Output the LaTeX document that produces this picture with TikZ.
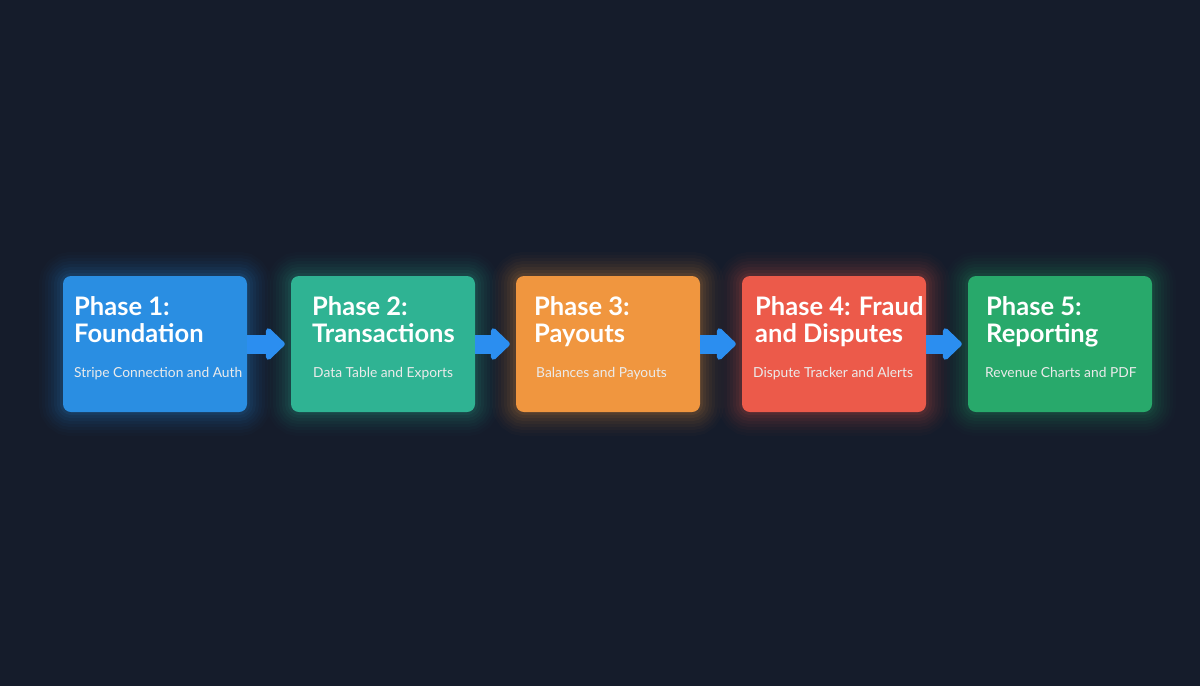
\documentclass[tikz,border=0pt]{standalone}
\usepackage{fontspec}
\setmainfont{Lato}
\usetikzlibrary{arrows.meta,positioning}

\definecolor{bgnavy}{HTML}{151C2B}
\definecolor{phaseblue}{HTML}{2A8EE2}
\definecolor{phaseteal}{HTML}{2FB393}
\definecolor{phaseorange}{HTML}{F0963F}
\definecolor{phasered}{HTML}{EC5A4A}
\definecolor{phasegreen}{HTML}{28A96B}
\definecolor{arrowblue}{HTML}{2B8EF0}

\tikzset{
	glow/.style={
		preaction={draw=#1,line width=48pt,opacity=0.02},
		preaction={draw=#1,line width=42pt,opacity=0.025},
		preaction={draw=#1,line width=36pt,opacity=0.03},
		preaction={draw=#1,line width=30pt,opacity=0.035},
		preaction={draw=#1,line width=24pt,opacity=0.04},
		preaction={draw=#1,line width=18pt,opacity=0.05},
		preaction={draw=#1,line width=12pt,opacity=0.06},
		preaction={draw=#1,line width=6pt,opacity=0.08}},
	phasebox/.style={fill=#1,glow=#1,rounded corners=8pt,
		minimum width=184pt,minimum height=136pt,inner sep=0pt},
	phasetitle/.style={anchor=base west,align=left,text=white,inner sep=0pt,
		font=\bfseries\fontsize{25.5}{27}\selectfont},
	phasenote/.style={anchor=base west,text=white!92!black,inner sep=0pt,
		font=\fontsize{13.8}{16}\selectfont},
	flow/.style={-{Triangle[width=37pt,length=20pt,round]},line width=19pt,
		draw=arrowblue,shorten >=6pt}
}

\begin{document}
\begin{tikzpicture}[x=1pt,y=-1pt]
	\fill[bgnavy] (0,0) rectangle (1200,686);
	\useasboundingbox (0,0) rectangle (1200,686);
	
	% boxes
	\node[phasebox=phaseblue]   (phase1) at (155,344)  {};
	\node[phasebox=phaseteal]   (phase2) at (383,344)  {};
	\node[phasebox=phaseorange] (phase3) at (608,344)  {};
	\node[phasebox=phasered]    (phase4) at (834,344)  {};
	\node[phasebox=phasegreen]  (phase5) at (1060,344) {};
	
	% titles (anchored at the baseline of the second line)
	\node[phasetitle] (title1) at (74,342)  {Phase 1:\\Foundation};
	\node[phasetitle] (title2) at (312,342) {Phase 2:\\Transactions};
	\node[phasetitle] (title3) at (534,342) {Phase 3:\\Payouts};
	\node[phasetitle] (title4) at (755,342) {Phase 4: Fraud\\and Disputes};
	\node[phasetitle] (title5) at (986,342) {Phase 5:\\Reporting};
	
	\node[phasenote] (note1) at (74,377)  {Stripe Connection and Auth};
	\node[phasenote] (note2) at (313,377) {Data Table and Exports};
	\node[phasenote] (note3) at (536,377) {Balances and Payouts};
	\node[phasenote] (note4) at (753,377) {Dispute Tracker and Alerts};
	\node[phasenote] (note5) at (985,377) {Revenue Charts and PDF};
	
	% arrows
	\draw[flow] (phase1.east) -- (phase2.west);
	\draw[flow] (phase2.east) -- (phase3.west);
	\draw[flow] (phase3.east) -- (phase4.west);
	\draw[flow] (phase4.east) -- (phase5.west);
\end{tikzpicture}
\end{document}
